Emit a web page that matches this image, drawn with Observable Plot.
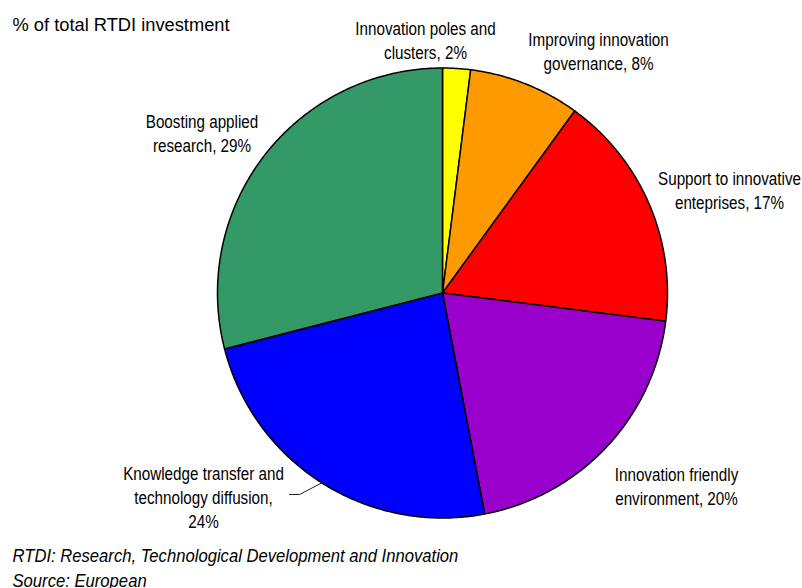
<!DOCTYPE html>
<html><head><meta charset="utf-8">
<script src="https://cdn.jsdelivr.net/npm/d3@7"></script>
<script src="https://cdn.jsdelivr.net/npm/@observablehq/plot@0.6"></script>
<style>body{margin:0;background:#fff}#chart svg{display:block}</style>
</head><body><div id="chart"></div>
<script>
// ---- data ----
const categories = ["Innovation poles and clusters", "Improving innovation governance", "Support to innovative enteprises", "Innovation friendly environment", "Knowledge transfer and technology diffusion", "Boosting applied research"];
const shares = [2, 8, 17, 20, 24, 29];
const colors = ["#FFFF00", "#FF9900", "#FF0000", "#9900CC", "#0000FF", "#339966"];
const labelLines = [
  "Innovation poles and\nclusters, 2%",
  "Improving innovation\ngovernance, 8%",
  "Support to innovative\nenteprises, 17%",
  "Innovation friendly\nenvironment, 20%",
  "Knowledge transfer and\ntechnology diffusion,\n24%",
  "Boosting applied\nresearch, 29%"
];
const title = "% of total RTDI investment";
const notes = ["RTDI: Research, Technological Development and Innovation", "Source: European"];

// ---- layout ----
const W = 802, H = 588, CX = 442, CY = 292.5, R = 225;
const labelAnchors = [[425, 30], [598, 41], [729, 180], [676, 476], [203, 475], [201.5, 123]]; // center x, first baseline (px)
const leaderPx = [[289, 494], [299, 494], [322, 482]];
const px = x => (x - CX) / R, py = y => (CY - y) / R;
const FONT = "'Liberation Sans', Arial, sans-serif";
const LFS = 17.5, LSCALE = 0.87;   // labels: condensed look
const NFS = 18, NSCALE = 0.925;    // notes
const TFS = 18.3;

// pie geometry from shares (clockwise from 12 o'clock)
const total = d3.sum(shares);
const slicePts = [];
let acc = 0;
shares.forEach((v, i) => {
  const a0 = acc / total * 2 * Math.PI, a1 = (acc + v) / total * 2 * Math.PI;
  acc += v;
  const n = Math.max(4, Math.ceil((a1 - a0) / (Math.PI / 360)));
  slicePts.push({cat: categories[i], color: colors[i], x: 0, y: 0});
  for (let k = 0; k <= n; k++) {
    const a = a0 + (a1 - a0) * k / n;
    slicePts.push({cat: categories[i], color: colors[i], x: Math.sin(a), y: Math.cos(a)});
  }
  slicePts.push({cat: categories[i], color: colors[i], x: 0, y: 0});
});

const labels = labelLines.map((t, i) => ({text: t, x: px(labelAnchors[i][0]), y: py(labelAnchors[i][1] - 0.71 * LFS)}));
const leader = leaderPx.map(([a, b]) => ({x: px(a), y: py(b)}));

const chart = Plot.plot({
  width: W, height: H, margin: 0,
  style: {background: "#fff"},
  x: {domain: [px(0), px(W)], range: [0, W], axis: null},
  y: {domain: [py(0), py(H)], range: [0, H], axis: null},
  color: {type: "identity"},
  marks: [
    Plot.line(slicePts, {x: "x", y: "y", z: "cat", fill: "color", stroke: "#000", strokeWidth: 1.5, strokeLinejoin: "round", curve: "linear"}),
    Plot.line(leader, {x: "x", y: "y", stroke: "#222", strokeWidth: 1}),
    Plot.text(labels, {x: "x", y: "y", text: "text", textAnchor: "middle", lineAnchor: "top", lineHeight: 24 / LFS, fontSize: LFS, fontFamily: FONT, fill: "#000"}),
    Plot.text([title], {x: px(12), y: py(30 - 0.71 * TFS), text: d => d, textAnchor: "start", lineAnchor: "top", fontSize: TFS, fontFamily: FONT, fill: "#000"}),
    Plot.text([notes.join("\n")], {x: px(12), y: py(557 - 0.71 * NFS), text: d => d, textAnchor: "start", lineAnchor: "top", lineHeight: 24.5 / NFS, fontSize: NFS, fontStyle: "italic", fontFamily: FONT, fill: "#000"})
  ]
});

// horizontally condense label and note texts about their anchor point
const labelSet = new Set(labelLines.map(s => s.replace(/\n/g, "")));
const noteStr = notes.join("");
d3.select(chart).selectAll("text").each(function () {
  const t = this.textContent;
  let s = null;
  if (labelSet.has(t)) s = LSCALE;
  else if (t === noteStr) s = NSCALE;
  if (s == null) return;
  const tr = this.getAttribute("transform");
  if (tr) this.setAttribute("transform", tr + ` scale(${s},1)`);
  else {
    const x = +this.getAttribute("x") || 0, y = +this.getAttribute("y") || 0;
    this.removeAttribute("x"); this.removeAttribute("y");
    this.setAttribute("transform", `translate(${x},${y}) scale(${s},1)`);
  }
});
document.getElementById("chart").append(chart);
</script>
</body></html>
